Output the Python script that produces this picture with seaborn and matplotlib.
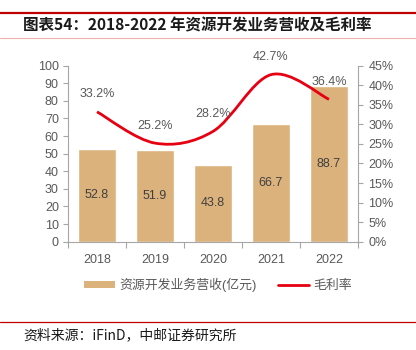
import matplotlib

matplotlib.use("Agg")
import matplotlib.pyplot as plt
import numpy as np
import pandas as pd
import seaborn as sns
from matplotlib.lines import Line2D
from matplotlib.patches import Patch, PathPatch
from matplotlib.path import Path
from matplotlib.ticker import FuncFormatter, MultipleLocator

years = ["2018", "2019", "2020", "2021", "2022"]
revenue = [52.8, 51.9, 43.8, 66.7, 88.7]  # 亿元
margin = [33.2, 25.2, 28.2, 42.7, 36.4]  # %

BAR_COLOR = "#DBB27C"
LINE_COLOR = "#E60012"
TEXT_COLOR = "#595959"
SPINE_COLOR = "#A6A6A6"

sns.set_theme(style="white")
plt.rcParams["font.family"] = ["Liberation Sans", "Noto Sans CJK SC", "DejaVu Sans"]


def smooth_path(xs, ys):
    # Excel-like smoothed line: cubic bezier through each point
    pts = np.column_stack([xs, ys]).astype(float)
    n = len(pts)
    verts = [pts[0]]
    codes = [Path.MOVETO]
    for i in range(n - 1):
        p0 = pts[i - 1] if i > 0 else pts[i]
        p1 = pts[i]
        p2 = pts[i + 1]
        p3 = pts[i + 2] if i + 2 < n else pts[i + 1]
        c1 = p1 + (p2 - p0) / 6
        c2 = p2 - (p3 - p1) / 6
        verts += [c1, c2, p2]
        codes += [Path.CURVE4] * 3
    return Path(verts, codes)


df = pd.DataFrame({"year": years, "revenue": revenue, "margin": margin})

fig = plt.figure(figsize=(4.16, 3.5), dpi=100)
ax = fig.add_axes([0.1635, 0.3094, 0.697, 0.503])

sns.barplot(data=df, x="year", y="revenue", color=BAR_COLOR, saturation=1,
            width=0.64, ax=ax)
ax.set_xlim(-0.5, 4.5)
ax.set_ylim(0, 100)
ax.yaxis.set_major_locator(MultipleLocator(10))
ax.set_xlabel("")
ax.set_ylabel("")

for i, v in enumerate(revenue):
    ax.text(i, v / 2, f"{v:.1f}", ha="center", va="center", fontsize=9,
            color="#404040")

ax2 = ax.twinx()
ax2.set_ylim(0, 45)
ax2.yaxis.set_major_locator(MultipleLocator(5))
ax2.yaxis.set_major_formatter(FuncFormatter(lambda v, _: f"{v:.0f}%"))
ax2.add_patch(PathPatch(smooth_path(range(len(margin)), margin), facecolor="none",
                        edgecolor=LINE_COLOR, lw=2.0, capstyle="butt"))
for i, v in enumerate(margin):
    ax2.text(i, v + 4.5, f"{v:.1f}%", ha="center", va="center", fontsize=9,
             color=TEXT_COLOR, clip_on=False)

# ---- axis styling ----
for a in (ax, ax2):
    a.spines["top"].set_visible(False)
    for side in ("left", "right", "bottom"):
        a.spines[side].set_color(SPINE_COLOR)
        a.spines[side].set_linewidth(0.8)
    a.tick_params(labelsize=9, labelcolor=TEXT_COLOR, color=SPINE_COLOR,
                  length=3.6, width=0.8)
ax2.spines["left"].set_visible(False)
ax2.spines["bottom"].set_visible(False)
ax.spines["right"].set_visible(False)

ax.tick_params(axis="y", left=True, direction="out", pad=3)
ax2.tick_params(axis="y", right=True, direction="out", pad=4)
ax.tick_params(axis="x", bottom=False, pad=5)
ax.set_xticks(np.arange(-0.5, 5, 1.0), minor=True)
ax.tick_params(axis="x", which="minor", bottom=True, length=4, color=SPINE_COLOR,
               width=0.8)

# ---- legend ----
handles = [
    Patch(facecolor=BAR_COLOR, edgecolor="none"),
    Line2D([0], [0], color=LINE_COLOR, lw=2.0),
]
fig.legend(handles, ["资源开发业务营收(亿元)", "毛利率"], loc="center",
           bbox_to_anchor=(0.524, 0.185), ncol=2, frameon=False, fontsize=9.3,
           labelcolor=TEXT_COLOR, handlelength=2.4, handleheight=0.5,
           columnspacing=1.6, handletextpad=0.35)

# ---- title / source frame ----
fig.add_artist(Line2D([0.0, 1.0], [1 - 13 / 350] * 2, color="#C00000", lw=1.6))
fig.add_artist(Line2D([0.0, 1.0], [1 - 38 / 350] * 2, color="#F0B0B0", lw=0.8))
fig.text(23 / 416, 1 - 25 / 350, "图表54：2018-2022 年资源开发业务营收及毛利率",
         ha="left", va="center", fontsize=11.2, fontweight="bold",
         color="#1a1a1a", family=["Noto Sans CJK SC", "DejaVu Sans"])
fig.add_artist(Line2D([0.0, 1.0], [1 - 322 / 350] * 2, color="#C00000", lw=0.9))
fig.text(23 / 416, 1 - 335 / 350, "资料来源：iFinD，中邮证券研究所",
         ha="left", va="center", fontsize=10, color="#1a1a1a",
         family=["Noto Sans CJK SC", "DejaVu Sans"])

fig.savefig("out.png", dpi=100)
